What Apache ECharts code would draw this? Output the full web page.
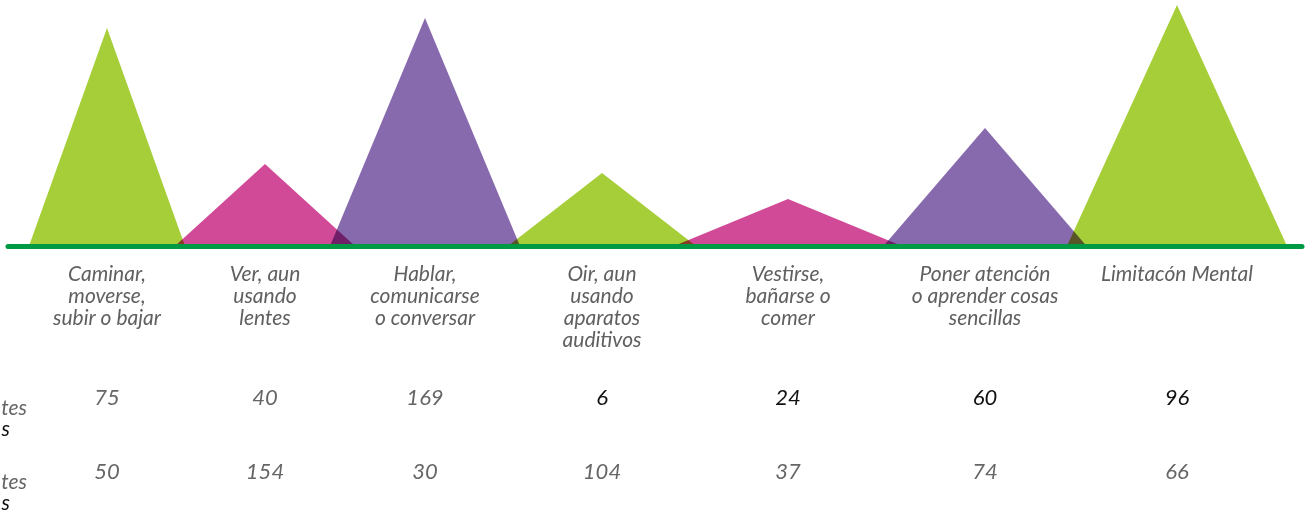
<!DOCTYPE html>
<html>
<head>
<meta charset="utf-8">
<script src="https://cdn.jsdelivr.net/npm/echarts@6/dist/echarts.min.js"></script>
<style>
  html, body { margin: 0; padding: 0; background: #fff; }
  #chart { width: 1309px; height: 515px; }
</style>
</head>
<body>
<div id="chart"></div>
<script>
  const categories = [
    'Caminar,\nmoverse,\nsubir o bajar',
    'Ver, aun\nusando\nlentes',
    'Hablar,\ncomunicarse\no conversar',
    'Oir, aun\nusando\naparatos\nauditivos',
    'Vestirse,\nbañarse o\ncomer',
    'Poner atención\no aprender cosas\nsencillas',
    'Limitacón Mental',
  ];
  // position of each category along the axis, and the height of its peak
  const centers = [107, 265, 425, 602, 788, 985, 1177];
  const peaks = [218, 82, 228, 73, 47, 118, 241];
  const rowOne = [75, 40, 169, 6, 24, 60, 96];
  const rowTwo = [50, 154, 30, 104, 37, 74, 66];

  // styling, kept apart from the values
  const baseWidths = [156, 180, 190, 188, 228, 203, 220];
  const colors = ['#a6ce39', '#d14a98', '#8769ad', '#a6ce39', '#d14a98', '#8769ad', '#a6ce39'];
  const darkFromIndex = 3;

  const font = 'Lato, "Open Sans", sans-serif';

  function labelFor(list) {
    return (value) => {
      const i = centers.indexOf(Math.round(value));
      return i < 0 ? '' : list[i];
    };
  }

  function numberAxis(list, offset, rich) {
    const text = (color) => ({ color, fontFamily: font, fontStyle: 'italic', fontSize: 22, lineHeight: 26 });
    return {
      type: 'value',
      min: 8,
      max: 1302,
      position: 'bottom',
      offset: offset,
      axisLine: { show: false },
      axisTick: { show: false },
      splitLine: { show: false },
      axisLabel: {
        customValues: centers,
        margin: 0,
        hideOverlap: false,
        formatter: (value) => {
          const i = centers.indexOf(Math.round(value));
          if (i < 0) return '';
          if (!rich) return String(list[i]);
          return (i >= darkFromIndex ? '{k|' : '{g|') + list[i] + '}';
        },
        ...text('#666'),
        rich: rich ? { g: text('#666'), k: text('#111') } : undefined,
      },
    };
  }

  const chart = echarts.init(document.getElementById('chart'), null, { renderer: 'canvas' });

  const option = {
    animation: false,
    grid: { left: 8, right: 7, top: 5, bottom: 269, containLabel: false },
    xAxis: [
      {
        type: 'value',
        min: 8,
        max: 1302,
        z: 10,
        axisLine: { show: true, onZero: false, lineStyle: { color: '#009a44', width: 5, cap: 'round' } },
        axisTick: { show: false },
        splitLine: { show: false },
        axisLabel: {
          customValues: centers,
          margin: 17,
          hideOverlap: false,
          formatter: labelFor(categories),
          color: '#606060',
          fontFamily: font,
          fontStyle: 'italic',
          fontSize: 21,
          lineHeight: 22,
        },
      },
      numberAxis(rowOne, 139, true),
      numberAxis(rowTwo, 213, false),
    ],
    yAxis: { type: 'value', min: 0, max: 241, show: false },
    graphic: [
      { type: 'text', right: 1282, top: 398, style: { text: 'tes', fill: '#666', font: 'italic 21px ' + font } },
      { type: 'text', right: 1299, top: 419, style: { text: 's', fill: '#111', font: 'italic 21px ' + font } },
      { type: 'text', right: 1282, top: 472, style: { text: 'tes', fill: '#666', font: 'italic 21px ' + font } },
      { type: 'text', right: 1299, top: 493, style: { text: 's', fill: '#111', font: 'italic 21px ' + font } },
    ],
    series: [
      {
        type: 'custom',
        xAxisIndex: 0,
        data: centers.map((c, i) => [c, peaks[i]]),
        renderItem: (params, api) => {
          const i = params.dataIndex;
          const c = api.value(0);
          const h = api.value(1);
          const half = baseWidths[i] / 2;
          const left = api.coord([c - half, 0]);
          const top = api.coord([c, h]);
          const right = api.coord([c + half, 0]);
          return {
            type: 'polygon',
            shape: { points: [left, top, right] },
            style: { fill: colors[i], blend: 'multiply' },
          };
        },
      },
    ],
  };

  chart.setOption(option);

  // overlapping peaks darken each other, as in print
  const zr = chart.getZr();
  zr.storage.getDisplayList(true).forEach((el) => {
    if (el.type === 'polygon') {
      el.style.blend = 'multiply';
      el.dirty();
    }
  });
  zr.refreshImmediately();

  window.addEventListener('resize', () => chart.resize());
</script>
</body>
</html>
